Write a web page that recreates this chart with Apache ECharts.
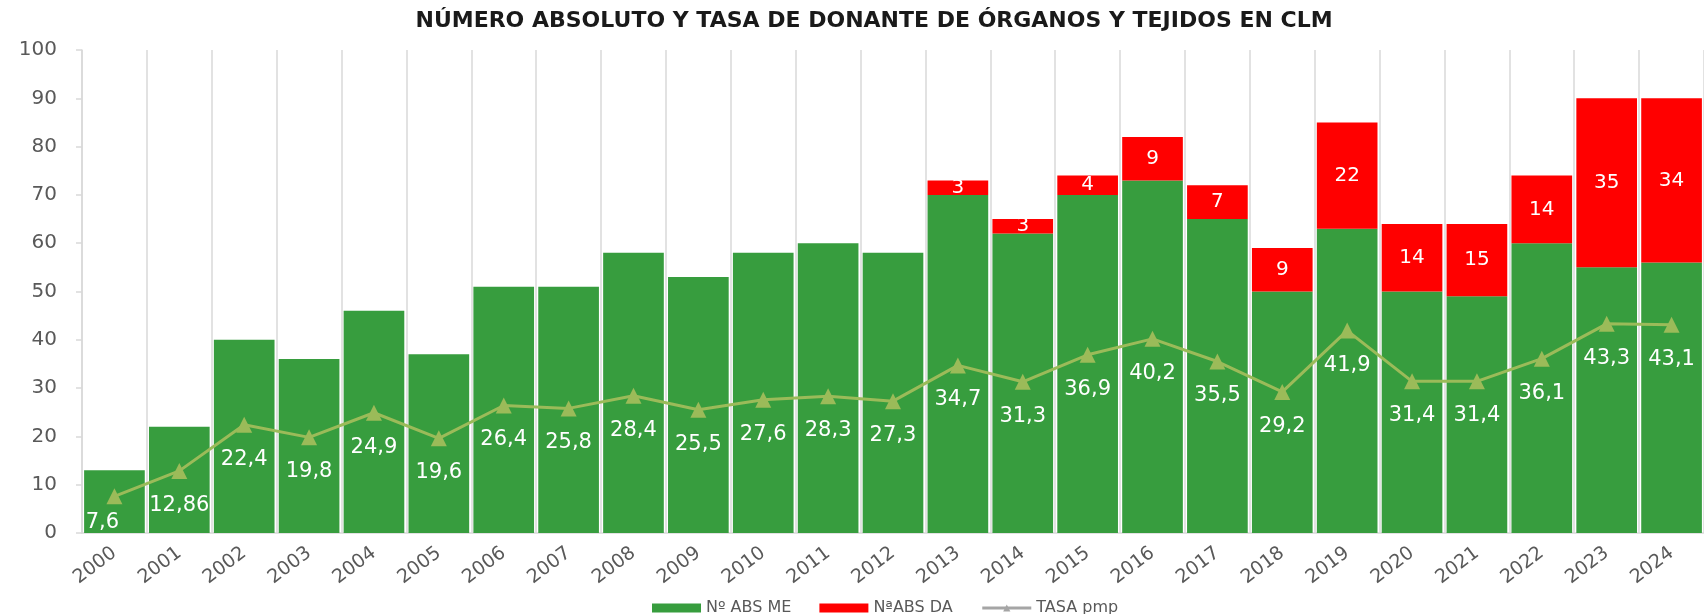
<!DOCTYPE html>
<html>
<head>
<meta charset="utf-8">
<script src="https://cdn.jsdelivr.net/npm/echarts@6/dist/echarts.min.js"></script>
<style>
html,body{margin:0;padding:0;background:#fff;}
#c{width:1704px;height:614px;}
</style>
</head>
<body>
<div id="c"></div>
<script>
const years = ['2000','2001','2002','2003','2004','2005','2006','2007','2008','2009','2010','2011','2012','2013','2014','2015','2016','2017','2018','2019','2020','2021','2022','2023','2024'];
const absME = [13,22,40,36,46,37,51,51,58,53,58,60,58,70,62,70,73,65,50,63,50,49,60,55,56];
const absDA = [null,null,null,null,null,null,null,null,null,null,null,null,null,3,3,4,9,7,9,22,14,15,14,35,34];
const tasaPmp = [7.6,12.86,22.4,19.8,24.9,19.6,26.4,25.8,28.4,25.5,27.6,28.3,27.3,34.7,31.3,36.9,40.2,35.5,29.2,41.9,31.4,31.4,36.1,43.3,43.1];
const yTicks = [0,100,10];

const chart = echarts.init(document.getElementById('c'));
const fmt = p => String(p.value).replace('.', ',');
chart.setOption({
  animation: false,
  backgroundColor: '#ffffff',
  textStyle: { fontFamily: 'DejaVu Sans' },
  title: {
    text: 'NÚMERO ABSOLUTO Y TASA DE DONANTE DE ÓRGANOS Y TEJIDOS EN CLM',
    left: '51%', top: 5, textAlign: 'center',
    textStyle: { fontFamily: 'DejaVu Sans', fontWeight: 'bold', fontSize: 22, color: '#1a1a1a' }
  },
  legend: {
    left: 647, top: 595,
    itemWidth: 49, itemHeight: 9, itemGap: 28,
    textStyle: { fontSize: 16, color: '#595959' },
    data: [
      { name: 'Nº ABS ME', icon: 'rect' },
      { name: 'NªABS DA', icon: 'rect' },
      { name: 'TASA pmp', itemStyle: { color: '#A5A5A5' }, lineStyle: { color: '#A5A5A5', width: 3 } }
    ]
  },
  grid: { left: 82, top: 50, width: 1632, height: 483, containLabel: false },
  xAxis: {
    type: 'category', data: years,
    axisLine: { show: true, lineStyle: { color: '#d9d9d9', width: 1.5 } },
    axisTick: { show: false },
    splitLine: { show: true, interval: 0, lineStyle: { color: '#d9d9d9', width: 1.5 } },
    axisLabel: { interval: 0, rotate: 37, fontSize: 19, color: '#595959', margin: 18 }
  },
  yAxis: {
    type: 'value', min: yTicks[0], max: yTicks[1], interval: yTicks[2],
    splitLine: { show: false },
    axisLine: { show: true, lineStyle: { color: '#d9d9d9', width: 1.5 } },
    axisTick: { show: true, length: 6, lineStyle: { color: '#d9d9d9', width: 1.5 } },
    axisLabel: { fontSize: 20, color: '#595959', margin: 25 }
  },
  series: [
    {
      name: 'Nº ABS ME', type: 'bar', stack: 'abs', data: absME,
      barCategoryGap: '6.5%',
      itemStyle: { color: '#379D3E' }
    },
    {
      name: 'NªABS DA', type: 'bar', stack: 'abs', data: absDA,
      barCategoryGap: '6.5%',
      itemStyle: { color: '#FF0000' },
      label: { show: true, position: 'inside', color: '#ffffff', fontSize: 20, formatter: fmt }
    },
    {
      name: 'TASA pmp', type: 'line', z: 5,
      data: tasaPmp.map((v, i) => i === 0 ? { value: v, label: { distance: 8, offset: [-12, 0] } } : v),
      symbol: 'triangle', symbolSize: 16,
      lineStyle: { color: '#9BBB59', width: 3 },
      itemStyle: { color: '#9BBB59' },
      label: { show: true, position: 'bottom', distance: 16, color: '#ffffff', fontSize: 21, formatter: fmt }
    }
  ]
});
</script>
</body>
</html>
